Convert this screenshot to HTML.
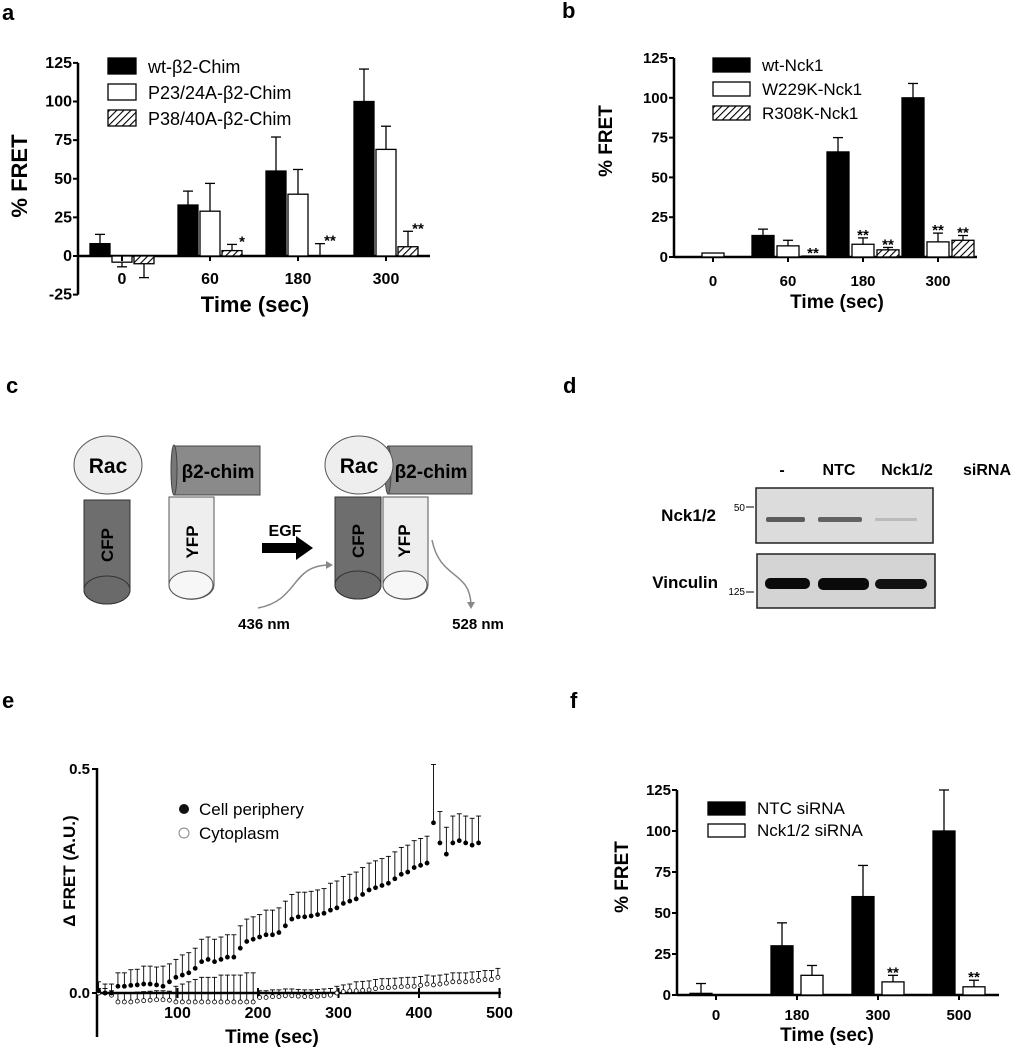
<!DOCTYPE html>
<html><head><meta charset="utf-8">
<style>
html,body{margin:0;padding:0;background:#fff;}
svg{display:block;font-family:"Liberation Sans",Arial,sans-serif;}
.b{font-weight:bold;}
</style></head>
<body>
<svg id="fig" width="1023" height="1050" viewBox="0 0 1023 1050" xmlns="http://www.w3.org/2000/svg">
<defs>
<pattern id="hatch" patternUnits="userSpaceOnUse" width="5" height="5" patternTransform="rotate(45)">
<rect width="5" height="5" fill="#fff"/><line x1="0" y1="0" x2="0" y2="5" stroke="#000" stroke-width="2.2"/>
</pattern>
</defs>
<text x="2" y="20" class="b" font-size="22">a</text>
<text x="562" y="18" class="b" font-size="22">b</text>
<text x="6" y="393" class="b" font-size="22">c</text>
<text x="563" y="393" class="b" font-size="22">d</text>
<text x="2" y="708" class="b" font-size="22">e</text>
<text x="570" y="708" class="b" font-size="22">f</text>

<g>
  <g>
    <path d="M84,500 L84,590 A23,14 0 0 0 130,590 L130,500 Z" fill="#6e6e6e" stroke="#333" stroke-width="1"/>
    <ellipse cx="107" cy="590" rx="23" ry="14" fill="#6a6a6a" stroke="#333"/>
    <ellipse cx="108" cy="465" rx="34" ry="29" fill="#eee" stroke="#555"/>
    <text x="108" y="473" text-anchor="middle" class="b" font-size="21">Rac</text>
    <text transform="translate(113,545) rotate(-90)" text-anchor="middle" class="b" font-size="17">CFP</text>
  </g>
  <g>
    <path d="M169,497 L169,585 A22,14 0 0 0 214,585 L214,497 Z" fill="#eee" stroke="#555"/>
    <ellipse cx="191" cy="585" rx="22" ry="14" fill="#f7f7f7" stroke="#555"/>
    <rect x="174" y="446" width="86" height="49" fill="#8a8a8a" stroke="#444"/>
    <ellipse cx="174" cy="470" rx="3" ry="25" fill="#777" stroke="#444"/>
    <text x="218" y="478" text-anchor="middle" class="b" font-size="19">β2-chim</text>
    <text transform="translate(198,542) rotate(-90)" text-anchor="middle" class="b" font-size="17">YFP</text>
  </g>
  <text x="285" y="536" text-anchor="middle" class="b" font-size="16">EGF</text>
  <path d="M262,543 L296,543 L296,536 L313,548 L296,560 L296,553 L262,553 Z" fill="#000"/>
  <g>
    <path d="M335,497 L335,585 A23,14 0 0 0 381,585 L381,497 Z" fill="#6e6e6e" stroke="#333"/>
    <ellipse cx="358" cy="585" rx="23" ry="14" fill="#6a6a6a" stroke="#333"/>
    <path d="M383,497 L383,585 A22,14 0 0 0 428,585 L428,497 Z" fill="#eee" stroke="#555"/>
    <ellipse cx="405" cy="585" rx="22" ry="14" fill="#f7f7f7" stroke="#555"/>
    <rect x="388" y="446" width="84" height="48" fill="#8a8a8a" stroke="#444"/>
    <ellipse cx="388" cy="470" rx="3" ry="24" fill="#777" stroke="#444"/>
    <ellipse cx="359" cy="465" rx="34" ry="29" fill="#eee" stroke="#555"/>
    <text x="359" y="473" text-anchor="middle" class="b" font-size="21">Rac</text>
    <text x="431" y="478" text-anchor="middle" class="b" font-size="19">β2-chim</text>
    <text transform="translate(364,541) rotate(-90)" text-anchor="middle" class="b" font-size="17">CFP</text>
    <text transform="translate(410,541) rotate(-90)" text-anchor="middle" class="b" font-size="17">YFP</text>
  </g>
  <path d="M258,608 C300,600 290,565 330,565" fill="none" stroke="#888" stroke-width="1.5"/>
  <path d="M326,561 L333,565 L326,569 Z" fill="#888"/>
  <path d="M432,540 C440,580 470,570 471,605" fill="none" stroke="#888" stroke-width="1.5"/>
  <path d="M467,602 L471,609 L475,602 Z" fill="#888"/>
  <text x="264" y="629" text-anchor="middle" class="b" font-size="15">436 nm</text>
  <text x="478" y="629" text-anchor="middle" class="b" font-size="15">528 nm</text>
</g>

<g>
  <text x="782" y="475" text-anchor="middle" class="b" font-size="16">-</text>
  <text x="839" y="475" text-anchor="middle" class="b" font-size="16">NTC</text>
  <text x="907" y="475" text-anchor="middle" class="b" font-size="16">Nck1/2</text>
  <text x="987" y="475" text-anchor="middle" class="b" font-size="16">siRNA</text>
  <rect x="756" y="488" width="177" height="55" fill="#dcdcdc" stroke="#222" stroke-width="1.5"/>
  <rect x="766" y="517" width="39" height="5" rx="2" fill="#444" opacity="0.85"/>
  <rect x="818" y="517" width="44" height="5" rx="2" fill="#444" opacity="0.8"/>
  <rect x="875" y="518" width="42" height="3" rx="1" fill="#bbb"/>
  <rect x="757" y="554" width="178" height="54" fill="#d4d4d4" stroke="#222" stroke-width="1.5"/>
  <rect x="765" y="578" width="45" height="11" rx="5" fill="#0a0a0a"/>
  <rect x="818" y="578" width="51" height="12" rx="5" fill="#0a0a0a"/>
  <rect x="875" y="579" width="52" height="10" rx="5" fill="#111"/>
  <text x="716" y="521" text-anchor="end" class="b" font-size="17">Nck1/2</text>
  <text x="718" y="588" text-anchor="end" class="b" font-size="17">Vinculin</text>
  <text x="745" y="511" text-anchor="end" font-size="10">50</text><line x1="746" y1="507" x2="754" y2="507" stroke="#000"/>
  <text x="745" y="595" text-anchor="end" font-size="10">125</text><line x1="746" y1="592" x2="754" y2="592" stroke="#000"/>
</g>
<g id="charts"></g>
</svg>
<script>
const aCats = ['0','60','180','300'];
const aWt = [8,33,55,100];
const aWtErr = [6,9,22,21];
const aP23 = [-4,29,40,69];
const aP23Err = [3,18,16,15];
const aP38 = [-5,3.5,0,6];
const aP38Err = [9,4,8,10];
const aP38Stars = ['','*','**','**'];
const aTicks = [-25,0,25,50,75,100,125];

const bCats = ['0','60','180','300'];
const bWt = [0,13.5,66,100];
const bWtErr = [0,4,9,9];
const bW229 = [2.5,7,8,9.5];
const bW229Err = [0,3.5,4,5.5];
const bW229Stars = ['','','**','**'];
const bR308 = [0,0.6,4.5,10.5];
const bR308Err = [0,0,1.5,3];
const bR308Stars = ['','**','**','**'];
const bTicks = [0,25,50,75,100,125];

const fCats = ['0','180','300','500'];
const fNtc = [1,30,60,100];
const fNtcErr = [6,14,19,25];
const fNck = [0,12,8,5];
const fNckErr = [0,6,4,4];
const fNckStars = ['','','**','**'];
const fTicks = [0,25,50,75,100,125];

const ePeriph = [0.005,0,0,0.015,0.015,0.017,0.018,0.02,0.02,0.018,0.015,0.025,0.035,0.04,0.045,0.055,0.07,0.075,0.07,0.075,0.08,0.08,0.1,0.115,0.12,0.125,0.13,0.13,0.135,0.15,0.165,0.17,0.17,0.172,0.175,0.178,0.185,0.19,0.2,0.205,0.21,0.22,0.23,0.235,0.24,0.245,0.255,0.265,0.27,0.28,0.285,0.29,0.38,0.335,0.31,0.335,0.34,0.335,0.33,0.335];
const ePeriphErr = [0.02,0.02,0.02,0.03,0.03,0.035,0.035,0.04,0.04,0.04,0.045,0.04,0.04,0.045,0.045,0.045,0.05,0.05,0.05,0.05,0.05,0.05,0.05,0.05,0.05,0.05,0.055,0.055,0.055,0.055,0.055,0.055,0.055,0.055,0.055,0.055,0.06,0.06,0.06,0.06,0.06,0.06,0.06,0.06,0.06,0.06,0.06,0.06,0.06,0.06,0.06,0.06,0.13,0.07,0.06,0.06,0.06,0.06,0.06,0.06];
const eCyto = [0,0,-0.005,-0.02,-0.02,-0.02,-0.018,-0.017,-0.016,-0.015,-0.015,-0.016,-0.02,-0.02,-0.02,-0.02,-0.02,-0.02,-0.02,-0.02,-0.02,-0.02,-0.02,-0.02,-0.02,-0.01,-0.01,-0.008,-0.008,-0.006,-0.006,-0.007,-0.008,-0.008,-0.007,-0.006,-0.005,0,0.003,0.005,0.005,0.006,0.007,0.01,0.012,0.012,0.013,0.014,0.015,0.015,0.017,0.02,0.018,0.02,0.022,0.025,0.025,0.025,0.027,0.028,0.03,0.03,0.035];
const eCytoErr = [0.01,0.01,0.01,0.02,0.02,0.02,0.02,0.02,0.02,0.02,0.02,0.02,0.035,0.04,0.045,0.05,0.055,0.055,0.055,0.06,0.06,0.06,0.06,0.065,0.065,0.015,0.015,0.015,0.015,0.015,0.015,0.015,0.015,0.015,0.015,0.015,0.015,0.015,0.015,0.015,0.02,0.02,0.02,0.02,0.02,0.02,0.02,0.02,0.02,0.02,0.02,0.02,0.02,0.02,0.02,0.02,0.02,0.02,0.02,0.02,0.02,0.02,0.02];
const eXTicks = [100,200,300,400,500];

const NS='http://www.w3.org/2000/svg';
const root=document.getElementById('charts');
function mk(tag,attrs,parent){const e=document.createElementNS(NS,tag);for(const k in attrs)e.setAttribute(k,attrs[k]);(parent||root).appendChild(e);return e;}
function txt(s,attrs,parent){const e=mk('text',attrs,parent);e.textContent=s;return e;}

function barChart(cfg){
  const g=mk('g',{});
  
  
  const y=v=>cfg.y0 - v*cfg.k;
  const yTop=y(cfg.ticks[cfg.ticks.length-1]), yBot=y(cfg.ticks[0]);
  const ya=mk('line',{x1:cfg.ax,y1:yTop,x2:cfg.ax,y2:yBot,stroke:'#000','stroke-width':2.5},g);
  
  
  const xa=mk('line',{x1:cfg.ax,y1:cfg.y0,x2:cfg.axEnd,y2:cfg.y0,stroke:'#000','stroke-width':2.5},g);
  
  
  cfg.ticks.forEach(t=>{
    mk('line',{x1:cfg.ax-5,y1:y(t),x2:cfg.ax,y2:y(t),stroke:'#000','stroke-width':2},g);
    const tl=txt(String(t),{x:cfg.ax-6,y:y(t)+5,'text-anchor':'end','font-size':cfg.tfs,'font-weight':'bold'},g);
    
    
  });
  cfg.series.forEach((s,si)=>{
    s.vals.forEach((v,i)=>{
      const x=cfg.gx0 + i*cfg.gs + si*cfg.step;
      const top=Math.min(y(v),cfg.y0), h=Math.abs(y(v)-cfg.y0);
      const e=s.err[i];
      if(e>0){
        const ey = v>=0 ? y(v+e) : y(v-e);
        const sy = y(v);
        mk('line',{x1:x+cfg.bw/2,y1:sy,x2:x+cfg.bw/2,y2:ey,stroke:'#000','stroke-width':1.3},g);
        mk('line',{x1:x+cfg.bw/2-5,y1:ey,x2:x+cfg.bw/2+5,y2:ey,stroke:'#000','stroke-width':1.3},g);
      }
      if(h>0.3 || v!==0){
        const r=mk('rect',{x:x,y:top,width:cfg.bw,height:Math.max(h,1),fill:s.fill,stroke:'#000','stroke-width':1.3},g);
        
        
      }
      if(s.stars && s.stars[i]){
        const sy=y(Math.max(v,0)+e)-6;
        const st=txt(s.stars[i],{x:x+cfg.bw/2+(cfg.starDx||0),y:sy+8,'text-anchor':'middle','font-size':15,'font-weight':'bold'},g);
        
        
      }
    });
  });
  cfg.cats.forEach((c,i)=>{
    const cx=cfg.gx0+i*cfg.gs+cfg.catOff;
    mk('line',{x1:cx,y1:cfg.y0,x2:cx,y2:cfg.y0+5,stroke:'#000','stroke-width':2},g);
    const tl=txt(c,{x:cx,y:cfg.xly,'text-anchor':'middle','font-size':cfg.tfs,'font-weight':'bold'},g);
    
    
  });
  const xt=txt('Time (sec)',{x:cfg.xtx,y:cfg.xty,'text-anchor':'middle','font-size':cfg.afs,'font-weight':'bold'},g);
  
  
  const yt=txt('% FRET',{transform:`translate(${cfg.ytx},${cfg.yty}) rotate(-90)`,'text-anchor':'middle','font-size':cfg.afs,'font-weight':'bold'},g);
  
  
  cfg.series.forEach((s,si)=>{
    const ly=cfg.ly+si*cfg.lstep;
    const lg=mk('g',{},g);
    
    
    mk('rect',{x:cfg.lx,y:ly,width:cfg.lw,height:cfg.lh,fill:s.fill,stroke:'#000','stroke-width':1.3},lg);
    txt(s.label,{x:cfg.lx+cfg.lw+12,y:ly+cfg.lh-1,'font-size':cfg.lfs},lg);
  });
}

barChart({name:'chart-a',cats:aCats,ticks:aTicks,ax:78,axEnd:430,y0:256,k:1.545,gx0:90,gs:88,step:22,bw:20,catOff:32,
  tfs:16,afs:22,xly:284,xtx:255,xty:312,ytx:27,yty:176,lx:108,ly:58,lstep:26,lw:28,lh:16,lfs:18,starDx:10,
  series:[{key:'wt-b2-chim',label:'wt-β2-Chim',vals:aWt,err:aWtErr,fill:'#000'},
          {key:'p23-24a-b2-chim',label:'P23/24A-β2-Chim',vals:aP23,err:aP23Err,fill:'#fff'},
          {key:'p38-40a-b2-chim',label:'P38/40A-β2-Chim',vals:aP38,err:aP38Err,fill:'url(#hatch)',stars:aP38Stars}]});

barChart({name:'chart-b',cats:bCats,ticks:bTicks,ax:674,axEnd:977,y0:257,k:1.592,gx0:677,gs:75,step:25,bw:22,catOff:36,
  tfs:15,afs:19,xly:286,xtx:837,xty:308,ytx:612,yty:141,lx:713,ly:58,lstep:24,lw:37,lh:14,lfs:17,starDx:0,
  series:[{key:'wt-nck1',label:'wt-Nck1',vals:bWt,err:bWtErr,fill:'#000'},
          {key:'w229k-nck1',label:'W229K-Nck1',vals:bW229,err:bW229Err,fill:'#fff',stars:bW229Stars},
          {key:'r308k-nck1',label:'R308K-Nck1',vals:bR308,err:bR308Err,fill:'url(#hatch)',stars:bR308Stars}]});

barChart({name:'chart-f',cats:fCats,ticks:fTicks,ax:677,axEnd:999,y0:995,k:1.64,gx0:690,gs:81,step:30,bw:22,catOff:26,
  tfs:15,afs:19,xly:1020,xtx:827,xty:1041,ytx:628,yty:877,lx:708,ly:802,lstep:22,lw:37,lh:13,lfs:17,starDx:0,
  series:[{key:'ntc-sirna',label:'NTC siRNA',vals:fNtc,err:fNtcErr,fill:'#000'},
          {key:'nck1-2-sirna',label:'Nck1/2 siRNA',vals:fNck,err:fNckErr,fill:'#fff',stars:fNckStars}]});

(function(){
  const g=mk('g',{});
  
  
  const X=t=>97+t*0.805, Y=v=>993-v*448;
  const ya=mk('line',{x1:97,y1:768,x2:97,y2:1037,stroke:'#000','stroke-width':2.5},g);
  
  
  const xa=mk('line',{x1:97,y1:993,x2:501,y2:993,stroke:'#000','stroke-width':2.5},g);
  
  
  [0,0.5].forEach(t=>{
    mk('line',{x1:92,y1:Y(t),x2:97,y2:Y(t),stroke:'#000','stroke-width':2},g);
    const l=txt(t.toFixed(1),{x:90,y:Y(t)+5,'text-anchor':'end','font-size':15,'font-weight':'bold'},g);
    
    
  });
  eXTicks.forEach(t=>{
    mk('line',{x1:X(t),y1:988,x2:X(t),y2:998,stroke:'#000','stroke-width':2},g);
    const l=txt(String(t),{x:X(t),y:1018,'text-anchor':'middle','font-size':16,'font-weight':'bold'},g);
    
    
  });
  function series(vals,errs,filled,key){
    const sg=mk('g',{},g);
    
    
    vals.forEach((v,i)=>{
      const t=2+8*i;
      const x=X(t), y=Y(v), ey=Y(v+errs[i]);
      mk('line',{x1:x,y1:y,x2:x,y2:ey,stroke:'#000','stroke-width':0.9},sg);
      mk('line',{x1:x-2.5,y1:ey,x2:x+2.5,y2:ey,stroke:'#000','stroke-width':0.9},sg);
      const c=mk('circle',{cx:x,cy:y,r:2,fill:filled?'#000':'#fff',stroke:'#000','stroke-width':0.8},sg);
      
      
    });
  }
  series(eCyto,eCytoErr,false,'cytoplasm');
  series(ePeriph,ePeriphErr,true,'cell-periphery');
  const xt=txt('Time (sec)',{x:272,y:1043,'text-anchor':'middle','font-size':19,'font-weight':'bold'},g);
  
  
  const yt=txt('Δ FRET (A.U.)',{transform:'translate(75,871) rotate(-90)','text-anchor':'middle','font-size':17,'font-weight':'bold'},g);
  
  
  const l1=mk('g',{},g);
  
  
  mk('circle',{cx:184,cy:809,r:5,fill:'#111'},l1);
  txt('Cell periphery',{x:199,y:815,'font-size':17},l1);
  const l2=mk('g',{},g);
  
  
  mk('circle',{cx:184,cy:833,r:5,fill:'#fff',stroke:'#888'},l2);
  txt('Cytoplasm',{x:199,y:839,'font-size':17},l2);
})();
</script>
</body></html>
